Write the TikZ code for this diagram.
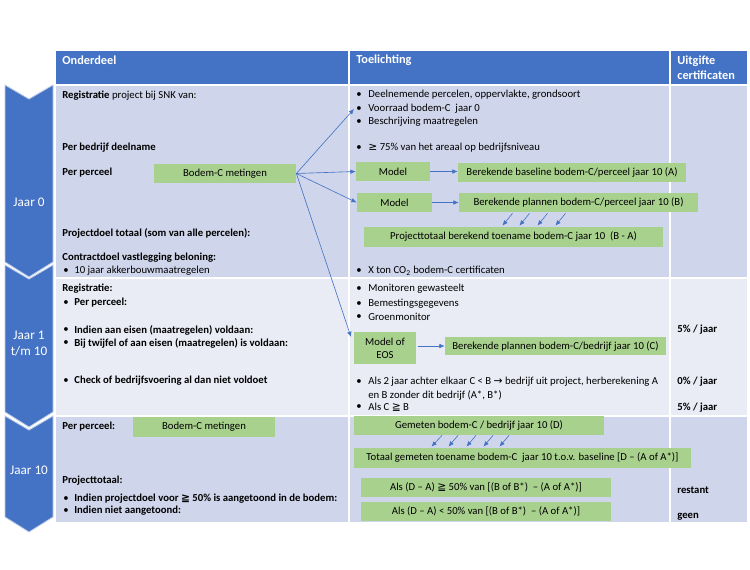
\documentclass[tikz,border=0pt]{standalone}
\usepackage{fontspec}
\setmainfont{Carlito}
\newfontfamily\dejavu{DejaVu Sans}
\usetikzlibrary{arrows.meta}
\definecolor{hdr}{HTML}{4472C4}
\definecolor{rowA}{HTML}{CFD5EA}
\definecolor{rowB}{HTML}{E9EBF5}
\definecolor{grn}{HTML}{A9D18E}
\begin{document}
\begin{tikzpicture}[x=0.02cm, y=-0.02cm,
  txt/.style={anchor=west, inner sep=0pt, font=\fontsize{6.1}{7.3}\selectfont},
  head/.style={anchor=west, inner sep=0pt, align=left, text=white, font=\fontsize{7}{8.5}\selectfont\bfseries},
  chev/.style={fill=hdr, draw=hdr!35, line width=0.5pt},
  chevtxt/.style={align=center, text=white, inner sep=0pt, font=\fontsize{7.5}{9.6}\selectfont},
  box/.style={fill=grn, inner sep=0pt, align=center, font=\fontsize{6.1}{7.3}\selectfont},
  arr/.style={draw=hdr, line width=0.35pt, -{Latex[length=3pt,width=2.6pt]}}]
\useasboundingbox (0,0) rectangle (750,570);

\foreach \ya/\yb/\c in {50/85/hdr, 85/278/rowA, 278/416/rowB, 416/523/rowA}
{
\foreach \xa/\xb in {55/349, 349/670, 670/748}
  \filldraw[fill=\c, draw=white, line width=0.8pt] (\xa,\ya) rectangle (\xb,\yb);
}

\node[head] (onderdeel) at (62,60) {Onderdeel};
\node[head] (toelichting) at (356,60) {Toelichting};
\node[head] (uitgifte) at (677,67.5) {Uitgifte\\certificaten};

\foreach \ya/\yb/\yl/\lbl in {85/262/202/{Jaar 0}, 265/412/343.5/{Jaar 1\\t/m 10}, 416/517/470/{Jaar 10}}
{
\filldraw[chev] (5,\ya) -- (29,\ya+14) -- (53,\ya) -- (53,\yb) -- (29,\yb+15) -- (5,\yb) -- cycle;
\node[chevtxt] (jaar\ya) at (29,\yl) {\lbl};
}

\node[txt] (reg) at (62,96) {\textbf{Registratie} project bij SNK van:};
\node[txt] (bedrijf) at (62,148) {\textbf{Per bedrijf deelname}};
\node[txt] (perceelA) at (62,173) {\textbf{Per perceel}};
\node[txt] (pdoel) at (62,233) {\textbf{Projectdoel totaal (som van alle percelen):}};
\node[txt] (cdoel) at (62,258) {\textbf{Contractdoel vastlegging beloning:}};
\node[txt] (regB) at (62,289) {\textbf{Registratie:}};
\node[txt] (perceelD) at (62,427) {\textbf{Per perceel:}};
\node[txt] (ptot) at (62,481) {\textbf{Projecttotaal:}};

\foreach \y/\tekst in {271/{10 jaar akkerbouwmaatregelen},
  303/{\textbf{Per perceel:}},
  330/{\textbf{Indien aan eisen (maatregelen) voldaan:}},
  343/{\textbf{Bij twijfel of aan eisen (maatregelen) is voldaan:}},
  381/{\textbf{Check of bedrijfsvoering al dan niet voldoet}},
  499/{\textbf{Indien projectdoel voor {\dejavu ≧} 50\% is aangetoond in de bodem:}},
  511/{\textbf{Indien niet aangetoond:}}}
{
\node[txt] (ob\y) at (63,\y) {•};
\node[txt] (ot\y) at (74,\y) {\tekst};
}

\foreach \y/\tekst in {95/{Deelnemende percelen, oppervlakte, grondsoort},
  109/{Voorraad bodem-C~ jaar 0},
  122/{Beschrijving maatregelen},
  148/{{\dejavu ≥} 75\% van het areaal op bedrijfsniveau},
  271/{X ton CO\textsubscript{2} bodem-C certificaten},
  289/{Monitoren gewasteelt},
  304/{Bemestingsgegevens},
  317/{Groenmonitor},
  382/{Als 2 jaar achter elkaar C < B {\dejavu →} bedrijf uit project, herberekening A},
  407/{Als C {\dejavu ≧} B}}
{
\node[txt] (tb\y) at (356,\y) {•};
\node[txt] (tl\y) at (368,\y) {\tekst};
}
\node[txt] (tl395) at (368,395) {en B zonder dit bedrijf (A*, B*)};

\foreach \y/\tekst in {330/{5\% / jaar}, 382/{0\% / jaar}, 408/{5\% / jaar}, 490/restant, 517/geen}
{
\node[txt] (cert\y) at (677,\y) {\textbf{\tekst}};
}

\node[box, minimum width=2.84cm, minimum height=0.38cm] (metA) at (225,173.5) {Bodem-C metingen};
\node[box, minimum width=1.48cm, minimum height=0.38cm] (modelA) at (393,171.5) {Model};
\node[box, minimum width=4.56cm, minimum height=0.38cm] (baseA) at (572,172.5) {Berekende baseline bodem-C/perceel jaar 10 (A)};
\node[box, minimum width=1.5cm, minimum height=0.38cm] (modelB) at (394.5,202.5) {Model};
\node[box, minimum width=4.78cm, minimum height=0.38cm] (planB) at (578.5,202.5) {Berekende plannen bodem-C/perceel jaar 10 (B)};
\node[box, minimum width=5.98cm, minimum height=0.4cm] (totB) at (513.5,237) {Projecttotaal berekend toename bodem-C jaar 10~ (B - A)};
\node[box, minimum width=1.24cm, minimum height=0.64cm, font=\fontsize{6.1}{7.6}\selectfont] (eos) at (385,348) {Model of\\EOS};
\node[box, minimum width=4.42cm, minimum height=0.36cm] (planC) at (555.5,346) {Berekende plannen bodem-C/bedrijf jaar 10 (C)};
\node[box, minimum width=2.84cm, minimum height=0.4cm] (metD) at (204,427) {Bodem-C metingen};
\node[box, minimum width=5cm, minimum height=0.38cm] (gemD) at (479,425.5) {Gemeten bodem-C / bedrijf jaar 10 (D)};
\node[box, minimum width=6.74cm, minimum height=0.4cm] (totD) at (522.5,458) {Totaal gemeten toename bodem-C~ jaar 10 t.o.v. baseline [D -- (A of A*)]};
\node[box, minimum width=5cm, minimum height=0.38cm] (alsA) at (486,487.5) {Als (D -- A) {\dejavu ≧} 50\% van [(B of B*)~ -- (A of A*)]};
\node[box, minimum width=5cm, minimum height=0.38cm] (alsB) at (486,511.5) {Als (D -- A) < 50\% van [(B of B*)~ -- (A of A*)]};

\coordinate (voorraad) at (354,109);
\coordinate (eosin) at (351,337);
\draw[arr] (metA.east) -- (voorraad);
\draw[arr] (metA.east) -- (modelA.west);
\draw[arr] (metA.east) -- (modelB.west);
\draw[arr] (metA.east) -- (eosin);
\draw[arr] (modelA.east) -- (modelA.east -| baseA.west);
\draw[arr] (modelB.east) -- (modelB.east -| planB.west);
\draw[arr, shorten <=1pt] (eos.east |- planC.west) -- (planC.west);

\foreach \a/\b in {-66/-11, -49/6, -31/24, -13/42}
  \draw[arr] ([shift={(\a,1)}]planB.south) -- ([shift={(\b,-1)}]totB.north);
\foreach \a/\b in {-37/-91, -21/-74, -3/-56, 14/-39, 30/-23}
  \draw[arr] ([shift={(\a,0)}]gemD.south) -- ([shift={(\b,-1)}]totD.north);
\end{tikzpicture}
\end{document}
